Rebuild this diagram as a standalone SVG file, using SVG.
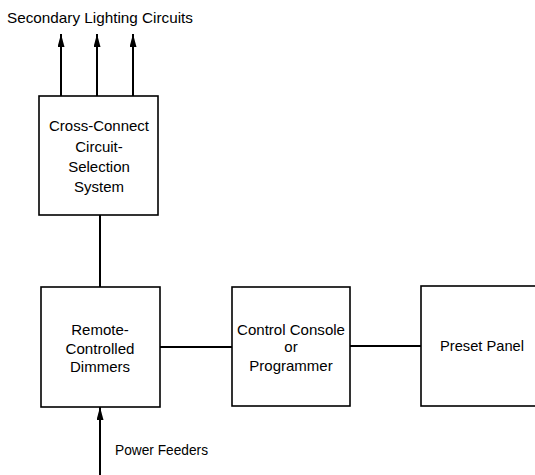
<svg xmlns="http://www.w3.org/2000/svg" width="535" height="475" viewBox="0 0 535 475">
  <defs>
    <marker id="arrow" viewBox="0 0 13 7" refX="13" refY="3.5" markerWidth="13" markerHeight="7" markerUnits="userSpaceOnUse" orient="auto">
      <path d="M0,0 L13,3.5 L0,7 Z" fill="#000"/>
    </marker>
  </defs>
  <style>
    .box { fill: #fff; stroke: #000; stroke-width: 1.6; }
    .line { stroke: #000; stroke-width: 2; fill: none; }
    .arr { stroke: #000; stroke-width: 2; fill: none; marker-end: url(#arrow); }
    text { font-family: "Liberation Sans", Arial, sans-serif; font-size: 15px; fill: #000; }
    .c { text-anchor: middle; }
  </style>
  <rect width="535" height="475" fill="#fff"/>

  <text id="title" x="7" y="23" textLength="186" lengthAdjust="spacingAndGlyphs">Secondary Lighting Circuits</text>

  <g id="connectors">
    <line class="arr" x1="61" y1="96" x2="61" y2="34"/>
    <line class="arr" x1="97" y1="96" x2="97" y2="34"/>
    <line class="arr" x1="133" y1="96" x2="133" y2="34"/>
    <line class="line" x1="100" y1="215" x2="100" y2="287"/>
    <line class="line" x1="160" y1="347" x2="232" y2="347"/>
    <line class="line" x1="350" y1="346" x2="421" y2="346"/>
    <line class="arr" x1="100" y1="475" x2="100" y2="407"/>
  </g>

  <g id="cross-connect">
    <rect class="box" x="39" y="96" width="119" height="119"/>
    <text class="c" x="99" y="131" textLength="100" lengthAdjust="spacingAndGlyphs">Cross-Connect</text>
    <text class="c" x="99" y="151.5">Circuit-</text>
    <text class="c" x="99" y="172">Selection</text>
    <text class="c" x="99" y="192">System</text>
  </g>

  <g id="dimmers">
    <rect class="box" x="41" y="287" width="119" height="120"/>
    <text class="c" x="100" y="335">Remote-</text>
    <text class="c" x="100" y="353.5" textLength="69" lengthAdjust="spacingAndGlyphs">Controlled</text>
    <text class="c" x="100" y="372">Dimmers</text>
  </g>

  <g id="control-console">
    <rect class="box" x="232" y="287" width="118" height="119"/>
    <text class="c" x="291" y="335" textLength="108" lengthAdjust="spacingAndGlyphs">Control Console</text>
    <text class="c" x="291" y="352">or</text>
    <text class="c" x="291" y="371">Programmer</text>
  </g>

  <g id="preset-panel">
    <rect class="box" x="421" y="286" width="125" height="120"/>
    <text x="440" y="351" textLength="84" lengthAdjust="spacingAndGlyphs">Preset Panel</text>
  </g>

  <text id="power-feeders" x="115" y="455" textLength="93" lengthAdjust="spacingAndGlyphs">Power Feeders</text>
</svg>
